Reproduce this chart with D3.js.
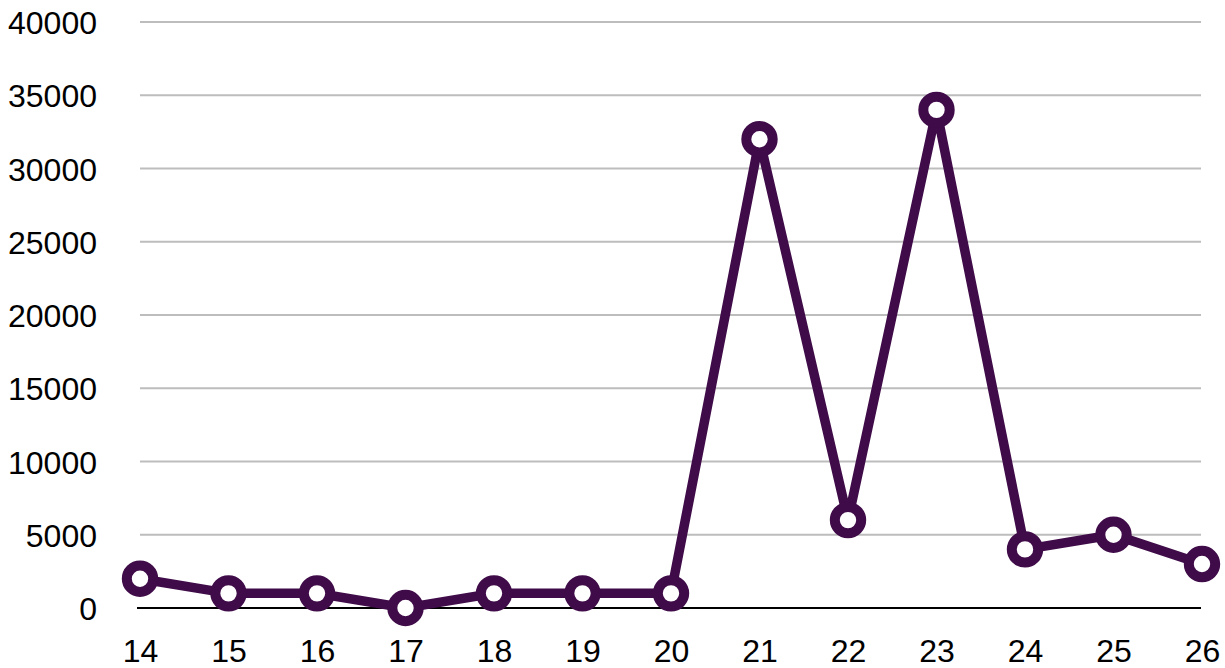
<!DOCTYPE html>
<html><head><meta charset="utf-8">
<script src="https://cdn.jsdelivr.net/npm/d3@7"></script>
<style>html,body{margin:0;padding:0;background:#fff;}svg{display:block;}</style>
</head><body>
<svg id="chart" width="1225" height="668"></svg>
<script>
const categories = ["14","15","16","17","18","19","20","21","22","23","24","25","26"];
const values = [2000,1000,1000,0,1000,1000,1000,32000,6000,34000,4000,5000,3000];
const yTicks = [0,5000,10000,15000,20000,25000,30000,35000,40000];

const svg = d3.select("#chart");
const x = d3.scalePoint().domain(categories).range([140, 1202]);
const y = d3.scaleLinear().domain([0, 40000]).range([608, 22]);
const font = "'Liberation Sans', Arial, Helvetica, sans-serif";

// gridlines
svg.append("g").selectAll("line").data(yTicks.filter(d => d > 0)).join("line")
  .attr("x1", 140).attr("x2", 1201)
  .attr("y1", d => y(d)).attr("y2", d => y(d))
  .attr("stroke", "#bdbdbd").attr("stroke-width", 2);

// y axis labels
const yAxis = d3.axisLeft(y).tickValues(yTicks).tickSize(0).tickPadding(0).tickFormat(d3.format("d"));
const gy = svg.append("g").attr("transform", "translate(97,0)").call(yAxis);
gy.select(".domain").remove();
gy.selectAll("text").attr("font-family", font).attr("font-size", 32).attr("fill", "#000").attr("dy", "0.36em");

// x axis
const xAxis = d3.axisBottom(x).tickSize(0).tickPadding(0);
const gx = svg.append("g").attr("transform", "translate(0,608)").call(xAxis);
gx.select(".domain").remove();
gx.selectAll("text").attr("font-family", font).attr("font-size", 32).attr("fill", "#000").attr("y", 42).attr("dy", "0.36em");
svg.append("line").attr("x1", 137).attr("x2", 1201).attr("y1", y(0)).attr("y2", y(0))
  .attr("stroke", "#000").attr("stroke-width", 2);

// line
const color = "#3f0b48";
const line = d3.line().x((d, i) => x(categories[i])).y(d => y(d));
svg.append("path").datum(values).attr("d", line)
  .attr("fill", "none").attr("stroke", color).attr("stroke-width", 9.5).attr("stroke-linejoin", "miter");

svg.append("g").selectAll("circle").data(values).join("circle")
  .attr("cx", (d, i) => x(categories[i])).attr("cy", d => y(d))
  .attr("r", 13.2).attr("fill", "#fff").attr("stroke", color).attr("stroke-width", 10);
</script>
</body></html>
